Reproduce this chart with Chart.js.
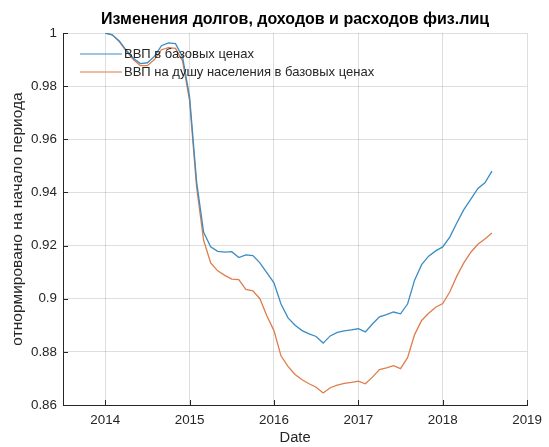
<!DOCTYPE html>
<html>
<head>
<meta charset="utf-8">
<script src="https://cdn.jsdelivr.net/npm/chart.js@4"></script>
<style>
    html, body { margin: 0; padding: 0; background: #fff; }
    #wrap { width: 549px; height: 447px; }
</style>
</head>
<body>
<div id="wrap"><canvas id="chart" width="549" height="447"></canvas></div>
<script>
// monthly data, Jan 2014 .. Aug 2018
const startYear = 2014;
const gdpBase = [
    1.0, 0.9993, 0.997, 0.9935, 0.9905, 0.9885, 0.9888, 0.9912, 0.9952, 0.9963, 0.996, 0.991,
    0.976, 0.944, 0.925, 0.9195, 0.9178, 0.9175, 0.9177, 0.9155, 0.9165, 0.9162, 0.9135, 0.9097,
    0.906, 0.898, 0.8928, 0.89, 0.888, 0.8868, 0.8858, 0.8833, 0.886, 0.8873, 0.8879, 0.8883,
    0.8887, 0.8875, 0.8905, 0.8932, 0.894, 0.895, 0.8943, 0.898, 0.907, 0.9128, 0.916, 0.918,
    0.9195, 0.9232, 0.9285, 0.9335, 0.9375, 0.9415, 0.9436, 0.948
];
const gdpPerCapita = [
    1.0, 0.9993, 0.9968, 0.9932, 0.99, 0.9877, 0.9877, 0.99, 0.9937, 0.9945, 0.9942, 0.9895,
    0.9745, 0.942, 0.922, 0.9135, 0.9105, 0.9088, 0.9074, 0.9072, 0.9035, 0.903, 0.9, 0.8935,
    0.888, 0.8785, 0.8745, 0.8715, 0.8695, 0.868, 0.8667, 0.8645, 0.8665, 0.8675, 0.8681, 0.8685,
    0.869, 0.868, 0.8705, 0.8733, 0.874, 0.8748, 0.8737, 0.8778, 0.8865, 0.8918, 0.8945, 0.8968,
    0.8982, 0.9025, 0.9085, 0.9135, 0.9175, 0.9205, 0.9225, 0.9247
];
const seriesNames = ['ВВП в базовых ценах', 'ВВП на душу населения в базовых ценах'];
const xTicks = [2014, 2015, 2016, 2017, 2018, 2019];
const yTicks = [0.86, 0.88, 0.9, 0.92, 0.94, 0.96, 0.98, 1];
const chartTitle = 'Изменения долгов, доходов и расходов физ.лиц';

const FONT = '"Liberation Sans", Arial, sans-serif';
const TEXT = '#262626';
const AXIS = '#262626';

function toPoints(values) {
    return values.map((v, i) => ({ x: startYear + i / 12, y: v }));
}

// title centred over the axes, like matlab
const axesTitle = {
    id: 'axesTitle',
    afterDraw(chart) {
        const ctx = chart.ctx;
        const area = chart.chartArea;
        ctx.save();
        ctx.font = 'bold 16px ' + FONT;
        ctx.fillStyle = '#000';
        ctx.textAlign = 'center';
        ctx.textBaseline = 'middle';
        ctx.fillText(chartTitle, (area.left + area.right) / 2, 19.5);
        ctx.restore();
    }
};

// inward ticks on left and bottom axes
const innerTicks = {
    id: 'innerTicks',
    afterDraw(chart) {
        const ctx = chart.ctx;
        const area = chart.chartArea;
        const xs = chart.scales.x, ys = chart.scales.y;
        ctx.save();
        ctx.strokeStyle = AXIS;
        ctx.lineWidth = 1;
        ctx.beginPath();
        xTicks.forEach(t => {
            const px = Math.round(xs.getPixelForValue(t)) + 0.5;
            ctx.moveTo(px, area.bottom);
            ctx.lineTo(px, area.bottom - 5);
        });
        yTicks.forEach(t => {
            const py = Math.round(ys.getPixelForValue(t)) + 0.5;
            ctx.moveTo(area.left, py);
            ctx.lineTo(area.left + 5, py);
        });
        ctx.stroke();
        ctx.restore();
    }
};

// legend inside the axes, no box
const innerLegend = {
    id: 'innerLegend',
    afterDatasetsDraw(chart) {
        const ctx = chart.ctx;
        const rows = [54, 72];
        ctx.save();
        ctx.font = '13px ' + FONT;
        ctx.textBaseline = 'middle';
        chart.data.datasets.forEach((ds, i) => {
            ctx.strokeStyle = ds.borderColor;
            ctx.lineWidth = 1.2;
            ctx.beginPath();
            ctx.moveTo(80, rows[i]);
            ctx.lineTo(122, rows[i]);
            ctx.stroke();
            ctx.fillStyle = TEXT;
            ctx.fillText(ds.label, 124, rows[i]);
        });
        ctx.restore();
    }
};

new Chart(document.getElementById('chart'), {
    type: 'line',
    data: {
        datasets: [{
            label: seriesNames[0],
            data: toPoints(gdpBase),
            borderColor: '#3a8dc4',
            borderWidth: 1.3,
            pointRadius: 0,
            tension: 0
        }, {
            label: seriesNames[1],
            data: toPoints(gdpPerCapita),
            borderColor: '#e07d4a',
            borderWidth: 1.3,
            pointRadius: 0,
            tension: 0
        }]
    },
    options: {
        responsive: false,
        animation: false,
        layout: { padding: { top: 33, right: 17, left: 0, bottom: 0 } },
        plugins: {
            legend: { display: false },
            tooltip: { enabled: false },
            title: { display: false }
        },
        scales: {
            x: {
                type: 'linear',
                min: 2013.5,
                max: 2019,
                afterBuildTicks: scale => { scale.ticks = xTicks.map(v => ({ value: v })); },
                afterFit: scale => { scale.height = 42; },
                ticks: {
                    color: TEXT,
                    font: { family: FONT, size: 13.4 },
                    padding: 7,
                    maxRotation: 0,
                    callback: v => String(v)
                },
                grid: { color: 'rgba(0,0,0,0.13)', drawTicks: false },
                border: { color: AXIS, width: 1 },
                title: {
                    display: true,
                    text: 'Date',
                    color: TEXT,
                    font: { family: FONT, size: 14.7 },
                    padding: { top: 0, bottom: 0 }
                }
            },
            y: {
                min: 0.86,
                max: 1,
                afterBuildTicks: scale => { scale.ticks = yTicks.map(v => ({ value: v })); },
                afterFit: scale => { scale.width = 63; },
                ticks: {
                    color: TEXT,
                    font: { family: FONT, size: 13.4 },
                    padding: 6,
                    callback: v => String(Number(v.toFixed(2)))
                },
                grid: { color: 'rgba(0,0,0,0.13)', drawTicks: false },
                border: { color: AXIS, width: 1 },
                title: {
                    display: true,
                    text: 'отнормировано на начало периода',
                    color: TEXT,
                    font: { family: FONT, size: 15.5 },
                    padding: { top: 8, bottom: 0 }
                }
            }
        }
    },
    plugins: [axesTitle, innerTicks, innerLegend]
});
</script>
</body>
</html>
